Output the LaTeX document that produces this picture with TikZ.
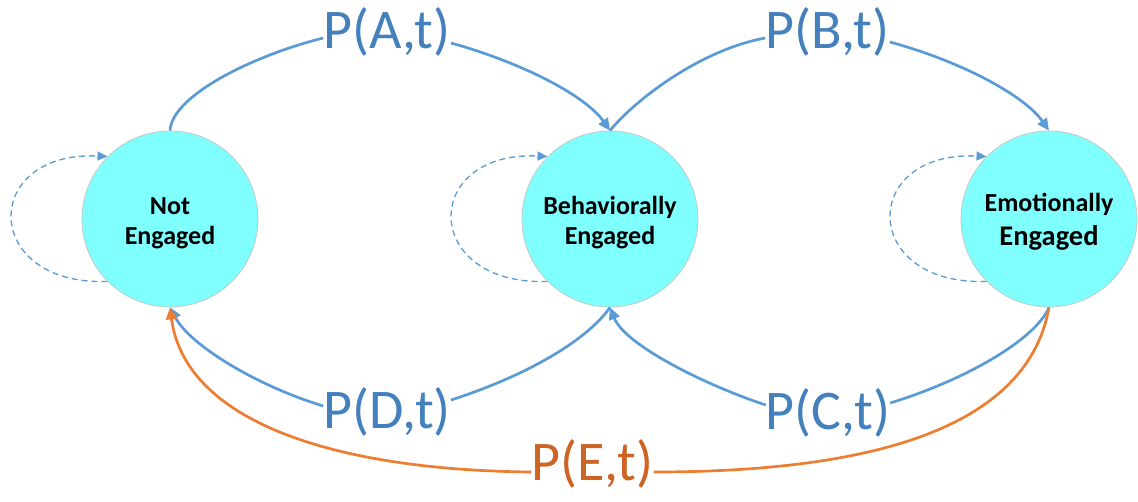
\documentclass[tikz,border=0pt]{standalone}
\usepackage{fontspec}
\setmainfont{Carlito}
\usetikzlibrary{arrows.meta}
\definecolor{flowblue}{RGB}{91,155,213}
\definecolor{labelblue}{RGB}{68,128,188}
\definecolor{floworange}{RGB}{237,125,49}
\definecolor{labelorange}{RGB}{205,100,35}
\definecolor{statecyan}{RGB}{128,255,255}
\begin{document}
\begin{tikzpicture}[x=1pt,y=-1pt,
  state/.style={circle, fill=statecyan, draw=black!22, line width=0.8pt,
    minimum size=176pt, inner sep=0pt, align=center,
    text height=55pt, text depth=5pt,
    font=\bfseries\fontsize{26}{30}\selectfont},
  rate/.style={inner sep=0pt, text height=40pt, text depth=12pt, anchor=base,
    font=\fontsize{56}{60}\selectfont, text=labelblue},
  flowline/.style={draw=flowblue, line width=2.7pt},
  backline/.style={draw=floworange, line width=2.7pt},
  tip/.style={-{Triangle[length=12pt,width=11pt]}},
  stayline/.style={draw=flowblue, line width=1.3pt, dash pattern=on 6pt off 4pt,
    -{Triangle[length=10pt,width=9pt]}}
]
\useasboundingbox (0,0) rectangle (1138,501);

% engagement states
\node[state] (ne) at (170,219) {Not\\Engaged};
\node[state] (be) at (610,219) {Behaviorally\\Engaged};
\node[state, text height=58pt, text depth=6pt] (em) at (1049,219)
  {Emotionally\\[4pt]{\fontsize{28.5}{30}\selectfont Engaged}};

% transition probabilities
\node[rate] (la) at (387,48) {P(A,t)};
\node[rate] (lb) at (827.5,48) {P(B,t)};
\node[rate] (ld) at (387,428) {P(D,t)};
\node[rate] (lc) at (828,429) {P(C,t)};
\node[rate, text=labelorange] (le) at (592.5,480) {P(E,t)};

% staying in the same state
\draw[stayline] (ne.225) .. controls +(-127,4) and +(-127,-6) .. (ne.135);
\draw[stayline] (be.225) .. controls +(-127,4) and +(-127,-6) .. (be.135);
\draw[stayline] (em.225) .. controls +(-127,4) and +(-127,-6) .. (em.135);

% forward transitions
\draw[flowline] (ne.north) .. controls (172,95) and (255,55) .. ([yshift=-4pt]la.west);
\draw[flowline,tip] ([yshift=-9pt]la.east) .. controls (520,62) and (585,95) .. (be.north);
\draw[flowline] (be.north) .. controls (635,100) and (700,50) .. ([yshift=-4pt]lb.west);
\draw[flowline,tip] ([yshift=-8pt]lb.east) .. controls (960,61) and (1024,95) .. (em.north);

% backward transitions
\draw[flowline] (be.south) .. controls (585,343) and (520,378) .. ([yshift=14pt]ld.east);
\draw[flowline,tip] ([yshift=8pt]ld.west) .. controls (255,385) and (190,345) .. (ne.south);
\draw[flowline] (em.south) .. controls (1035,340) and (965,380) .. ([yshift=12pt]lc.east);
\draw[flowline,tip] ([yshift=10pt]lc.west) .. controls (705,385) and (625,345) .. (be.south);

% disengagement
\draw[backline] (em.south) .. controls (1028,425) and (880,472) .. ([yshift=-6pt]le.east);
\draw[backline,tip] ([yshift=-6pt]le.west) .. controls (330,470) and (185,420) .. (ne.south);
\end{tikzpicture}
\end{document}
